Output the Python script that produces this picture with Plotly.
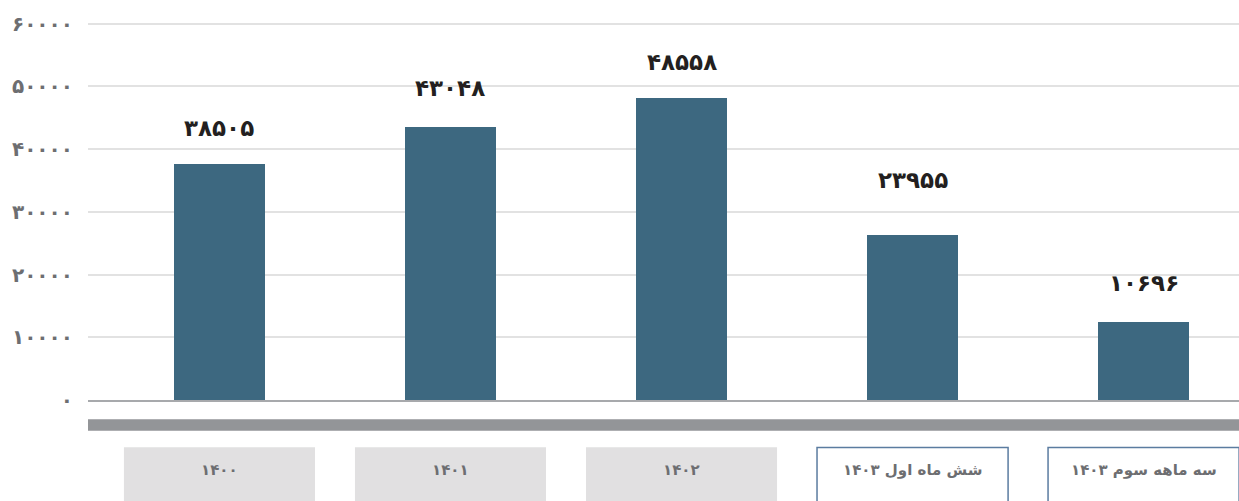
import plotly.graph_objects as go

# ---- data ----
categories = ["۱۴۰۰", "۱۴۰۱", "۱۴۰۲", "شش ماه اول ۱۴۰۳", "سه ماهه سوم ۱۴۰۳"]
bar_values = [37600, 43500, 48150, 26300, 12450]      # bar heights
value_labels = [38505, 43048, 48558, 23955, 10696]    # printed value labels
y_ticks = [0, 10000, 20000, 30000, 40000, 50000, 60000]

# ---- styling ----
highlight = [False, False, False, True, True]
label_gap = [36, 39, 36, 55, 39]

FA = str.maketrans("0123456789", "۰۱۲۳۴۵۶۷۸۹")
def fa(n):
    return str(n).translate(FA)

FONT = "DejaVu Sans"
W, H = 1239, 501
ML, MR, MT, MB = 88, 0, 10, 101
plot_h = H - MT - MB
px_per_unit = 0.006275
ymax = plot_h / px_per_unit

def py(pixel_y):
    # convert a page pixel row into paper coordinate
    return (H - MB - pixel_y) / plot_h

idx = list(range(len(categories)))

fig = go.Figure()
fig.add_trace(go.Bar(
    x=idx, y=bar_values, width=0.394,
    marker=dict(color="#3d6880", line=dict(width=0)),
    hoverinfo="skip",
))

annotations = []
for i, (v, lab) in enumerate(zip(bar_values, value_labels)):
    annotations.append(dict(
        x=i, y=v, xref="x", yref="y", text=fa(lab), showarrow=False,
        yanchor="middle", yshift=label_gap[i],
        font=dict(family=FONT, size=23, color="#231f20", weight="bold"),
    ))

shapes = [dict(type="rect", xref="paper", yref="paper", x0=0, x1=1,
               y0=py(430.8), y1=py(419.2), fillcolor="#939598",
               line=dict(width=0), layer="above")]
for i, cat in enumerate(categories):
    if highlight[i]:
        shapes.append(dict(type="rect", xref="x", yref="paper",
                           x0=i - 0.4135, x1=i + 0.4135, y0=py(520), y1=py(447.5),
                           fillcolor="white", line=dict(color="#5b7ca0", width=1.5)))
    else:
        shapes.append(dict(type="rect", xref="x", yref="paper",
                           x0=i - 0.4135, x1=i + 0.4135, y0=py(520), y1=py(447.3),
                           fillcolor="#e1e0e1", line=dict(width=0)))
    annotations.append(dict(
        x=i, y=py(470), xref="x", yref="paper", text=cat, showarrow=False,
        yanchor="middle",
        font=dict(family=FONT, size=15, color="#6d6e71", weight="bold"),
    ))

fig.update_layout(
    width=W, height=H,
    margin=dict(l=ML, r=MR, t=MT, b=MB, pad=0),
    plot_bgcolor="white", paper_bgcolor="white",
    showlegend=False,
    bargap=0,
    xaxis=dict(range=[-0.569, 4.413], showticklabels=False, showgrid=False,
               zeroline=False, showline=True, linecolor="#a7a9ac", linewidth=2,
               ticks="", fixedrange=True),
    yaxis=dict(range=[0, ymax], tickvals=y_ticks, ticktext=[fa(t) for t in y_ticks],
               showgrid=True, gridcolor="#e2e2e2", gridwidth=2,
               zeroline=False, showline=False, ticks="", ticklabelstandoff=14,
               tickfont=dict(family=FONT, size=20, color="#6d6e71", weight="bold"),
               fixedrange=True),
    annotations=annotations,
    shapes=shapes,
)

fig.write_html("out.html",
               post_script="document.body.style.margin='0px';document.body.style.overflow='hidden';",
               config={"displayModeBar": False})
